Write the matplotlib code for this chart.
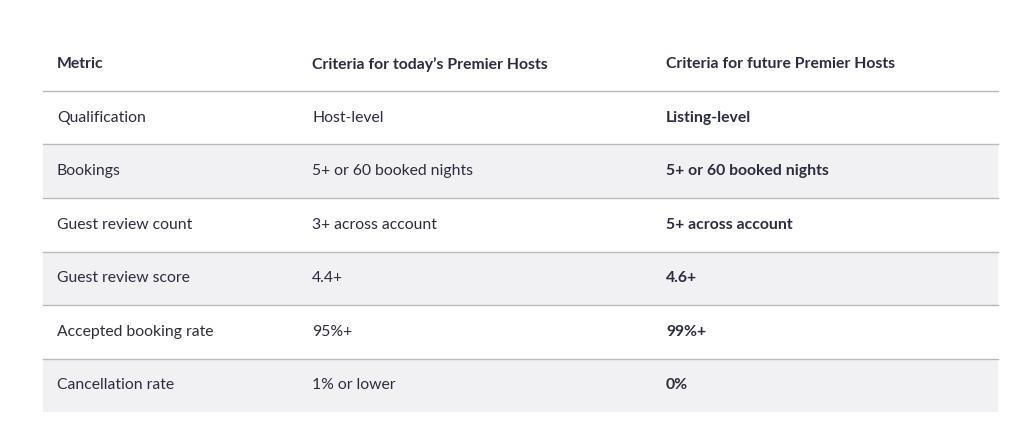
import matplotlib
matplotlib.use("Agg")
import matplotlib.pyplot as plt

headers = ["Metric", "Criteria for today\u2019s Premier Hosts", "Criteria for future Premier Hosts"]
metrics = ["Qualification", "Bookings", "Guest review count", "Guest review score",
           "Accepted booking rate", "Cancellation rate"]
today = ["Host-level", "5+ or 60 booked nights", "3+ across account", "4.4+", "95%+", "1% or lower"]
future = ["Listing-level", "5+ or 60 booked nights", "5+ across account", "4.6+", "99%+", "0%"]

fig = plt.figure(figsize=(10.24, 4.44), dpi=100)
ax = fig.add_axes([0, 0, 1, 1])
ax.set_xlim(0, 1024)
ax.set_ylim(444, 0)
ax.axis("off")

left, right = 43, 998
col_x = [57, 312, 666]
header_top, header_bot = 38, 91
row_h = 53.5
txt = "#2b2c3e"
font = "Lato"
fs = 11.3

for x, h in zip(col_x, headers):
    ax.text(x, (header_top + header_bot) / 2, h, fontsize=fs, fontweight="bold",
            color=txt, va="center", ha="left", family=font)
ax.plot([left, right], [header_bot, header_bot], color="#b9b9be", lw=1)

for i, (m, t, f) in enumerate(zip(metrics, today, future)):
    top = header_bot + i * row_h
    bot = top + row_h
    if i % 2 == 1:
        ax.add_patch(plt.Rectangle((left, top), right - left, row_h, color="#f1f1f3", lw=0, zorder=0))
    yc = (top + bot) / 2
    ax.text(col_x[0], yc, m, fontsize=fs, color=txt, va="center", family=font)
    ax.text(col_x[1], yc, t, fontsize=fs, color=txt, va="center", family=font)
    ax.text(col_x[2], yc, f, fontsize=fs, color=txt, va="center", fontweight="bold", family=font)
    if i < len(metrics) - 1:
        ax.plot([left, right], [bot, bot], color="#b9b9be", lw=1)

fig.savefig("out.png", dpi=100, facecolor="white")
